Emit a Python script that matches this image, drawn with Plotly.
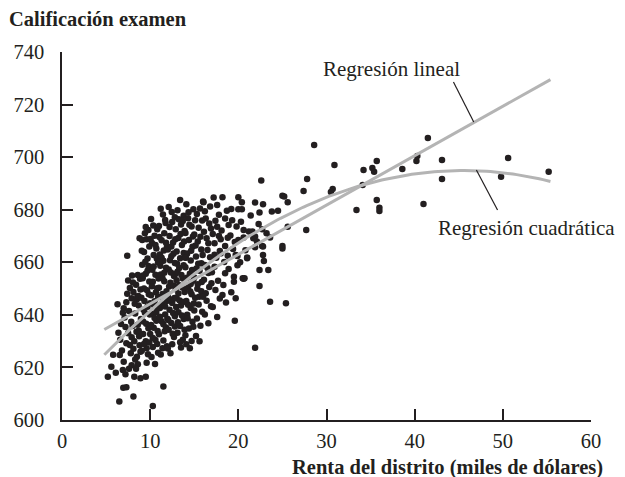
import plotly.graph_objects as go

# District income (thousands of dollars) and average test score, one pair per district
income = [
    5.2, 5.6, 5.8, 6.1,
    6.5, 6.55, 6.9, 6.6, 6.8, 6.4, 6.7, 6.9, 6.3, 6.95,
    7.0, 7.3, 7.8, 7.3, 7.7, 7.1, 7.85, 7.3, 7.0, 7.4, 7.5, 7.2, 7.6, 7.9, 7.7, 7.4, 7.9, 7.6, 7.2, 7.95, 7.5, 7.9,
    8.1, 8.2, 8.5, 8.9, 8.45, 8.6, 8.8, 8.3, 8.7, 8.1, 8.4, 8.9, 8.6, 8.2, 8.8, 8.0, 8.5, 8.7, 8.3, 8.9, 8.1, 8.6,
    8.4, 8.95, 8.75, 8.25, 8.55, 8.85, 8.05, 8.65,
    9.1, 9.5, 9.6, 9.6, 9.8, 9.2, 9.4, 9.7, 9.0, 9.3, 9.9, 9.5, 9.1, 9.7, 9.3, 9.9, 9.6, 9.4, 9.2, 9.8, 9.5, 9.05,
    9.75, 9.35, 9.85, 9.15, 9.45, 9.65, 9.25, 9.55, 9.95, 9.05, 9.7, 9.3, 9.8, 9.5, 9.9, 9.2,
    10.3, 10.8, 10.1, 10.5, 10.2, 10.7, 10.4, 10.9, 10.0, 10.6, 10.3, 10.8, 10.1, 10.5, 10.9, 10.2, 10.7, 10.4,
    10.0, 10.6, 10.3, 10.9, 10.55, 10.15, 10.85, 10.45, 10.65, 10.25, 10.75, 10.05, 10.35, 10.95, 10.5, 10.8,
    10.2, 10.6, 10.9, 10.1, 10.4, 10.7, 10.3, 10.0,
    11.7, 11.5, 11.4, 11.2, 11.0, 11.6, 11.3, 11.9, 11.1, 11.5, 11.8, 11.2, 11.6, 11.0, 11.4, 11.9, 11.1, 11.7,
    11.3, 11.8, 11.0, 11.5, 11.2, 11.9, 11.65, 11.35, 11.85, 11.15, 11.55, 11.05, 11.75, 11.45, 11.25, 11.95,
    11.6, 11.3, 11.1, 11.8, 11.4, 11.7, 11.0, 11.5,
    12.3, 12.8, 12.1, 12.5, 12.9, 12.2, 12.6, 12.0, 12.4, 12.8, 12.1, 12.7, 12.3, 12.9, 12.0, 12.5, 12.2, 12.8,
    12.4, 12.1, 12.7, 12.5, 12.95, 12.35, 12.65, 12.15, 12.85, 12.45, 12.05, 12.75, 12.25, 12.55, 12.9, 12.2,
    12.6, 12.0, 12.4, 12.8, 12.3, 12.7,
    13.4, 13.8, 13.1, 13.5, 13.9, 13.2, 13.6, 13.0, 13.4, 13.8, 13.1, 13.7, 13.3, 13.9, 13.0, 13.5, 13.2, 13.8,
    13.4, 13.1, 13.7, 13.5, 13.95, 13.35, 13.65, 13.15, 13.85, 13.45, 13.05, 13.75, 13.25, 13.55, 13.9, 13.2,
    13.6, 13.0, 13.4, 13.8, 13.3, 13.7,
    14.1, 14.5, 14.9, 14.3, 14.7, 14.0, 14.4, 14.8, 14.2, 14.6, 14.0, 14.5, 14.9, 14.3, 14.7, 14.1, 14.6, 14.2,
    14.8, 14.4, 14.0, 14.7, 14.35, 14.85, 14.15, 14.55, 14.95, 14.25, 14.65, 14.05, 14.45, 14.75, 14.9, 14.3,
    14.1, 14.6,
    15.2, 15.3, 15.9, 15.7, 15.8, 15.1, 15.5, 15.9, 15.0, 15.4, 15.8, 15.2, 15.6, 15.0, 15.4, 15.8, 15.1, 15.5,
    15.3, 15.7, 15.0, 15.6, 15.45, 15.85, 15.15, 15.55, 15.95, 15.25, 15.65, 15.35,
    16.0, 16.05, 16.3, 16.4, 16.5, 16.3, 16.9, 16.95, 16.2, 16.7, 16.1, 16.6, 16.8, 16.2, 16.6, 16.1, 16.7, 16.4,
    16.9, 16.2, 16.6, 16.8, 16.5, 16.0,
    17.6, 17.4, 17.6, 17.3, 17.3, 17.2, 17.8, 17.1, 17.9, 17.5, 17.0, 17.7, 17.4, 17.9, 17.1, 17.6, 17.3, 17.8,
    18.2, 18.5, 18.9, 18.5, 18.0, 18.5, 18.3, 18.7, 18.1, 18.8, 18.4, 18.9, 18.2, 18.6, 18.0, 18.8,
    19.2, 19.5, 19.6, 19.5, 19.7, 19.9, 19.3, 19.8, 19.1, 19.6, 19.4, 19.9, 19.2, 19.7,
    20.0, 20.4, 20.0, 20.4, 20.6, 20.6, 20.0, 20.5, 20.7, 20.6, 20.3, 20.8, 20.2,
    21.9, 21.2, 21.7, 21.6, 21.9, 21.9, 21.0, 21.0, 21.9, 21.4,
    22.6, 22.8, 22.4, 22.7, 22.7, 22.8, 22.8, 22.4, 22.4, 22.1, 22.3, 22.9,
    23.8, 23.6, 23.4, 23.6, 23.2,
    24.5, 25.0, 25.2, 25.6, 25.6, 25.0, 25.0, 25.4,
    27.4, 27.7, 27.8, 28.6, 30.9, 30.7, 30.5, 34.2, 35.2, 35.4, 35.7, 34.1, 38.6, 40.2, 40.3, 33.4, 35.7, 36.0,
    36.0, 41.5, 43.1, 43.1, 50.6, 49.8, 55.2, 41.0,
]

score = [
    616.5, 620.3, 624.8, 618.0,
    607.0, 624.7, 619.0, 630.5, 626.4, 633.2, 636.5, 640.8, 644.0, 612.3,
    622.2, 612.5, 625.4, 629.2, 628.5, 639.0, 637.4, 644.8, 642.5, 662.5, 633.0, 635.4, 641.5, 646.3, 650.2, 648.0,
    631.5, 619.5, 617.4, 655.0, 653.1, 620.8,
    608.9, 616.5, 624.1, 615.9, 633.6, 655.2, 669.1, 640.5, 643.6, 648.7, 651.5, 649.6, 636.2, 630.0, 628.4, 635.8,
    645.9, 634.0, 623.0, 626.0, 627.1, 621.2, 619.5, 638.4, 631.9, 644.2, 647.0, 653.7, 652.3, 647.2,
    668.5, 616.5, 621.8, 627.3, 672.3, 637.5, 640.8, 643.1, 646.5, 650.0, 652.7, 655.6, 659.1, 661.4, 663.9, 666.0,
    668.8, 671.0, 632.7, 634.9, 630.0, 626.3, 625.0, 645.3, 647.8, 653.9, 660.2, 649.4, 641.9, 636.6, 640.1, 664.4,
    656.8, 628.9, 658.6, 673.4, 629.5, 655.0,
    605.3, 672.6, 676.5, 670.1, 667.3, 665.2, 662.8, 660.0, 657.9, 655.3, 652.6, 650.1, 647.5, 645.2, 642.6, 640.3,
    637.8, 635.1, 632.7, 630.4, 627.8, 625.6, 621.3, 624.0, 633.9, 643.7, 648.6, 657.2, 661.4, 668.9, 674.0, 653.8,
    638.8, 628.9, 650.9, 666.6, 646.8, 636.1, 658.4, 641.1, 631.2, 644.4,
    676.1, 612.7, 627.3, 680.4, 673.8, 671.0, 668.4, 665.8, 663.0, 660.6, 657.9, 655.4, 652.8, 650.3, 647.9, 645.3,
    642.6, 640.1, 637.6, 635.2, 632.6, 630.2, 624.9, 628.1, 633.8, 644.1, 649.0, 658.7, 664.5, 669.6, 674.9, 678.2,
    646.7, 638.5, 656.0, 661.7, 639.3, 667.4, 653.9, 643.2, 660.1, 636.4,
    625.4, 677.1, 681.0, 675.3, 672.6, 670.0, 667.5, 664.9, 662.3, 659.7, 657.3, 654.8, 652.2, 649.7, 647.1, 644.5,
    641.9, 639.5, 636.9, 634.3, 631.6, 628.8, 643.0, 656.1, 663.3, 650.8, 668.8, 679.1, 638.0, 646.4, 660.8, 632.8,
    655.6, 673.4, 640.7, 627.2, 666.0, 635.6, 645.8, 651.1,
    683.7, 677.7, 679.8, 674.4, 671.9, 669.2, 666.6, 664.1, 661.5, 658.9, 656.4, 653.8, 651.3, 648.7, 646.2, 643.6,
    641.0, 638.4, 635.8, 633.2, 630.5, 627.6, 661.8, 645.5, 650.4, 637.2, 667.9, 670.8, 659.4, 644.9, 676.4, 655.2,
    634.3, 648.1, 639.8, 653.2, 629.6, 663.5, 657.8, 675.7,
    682.1, 627.3, 680.2, 676.8, 673.6, 671.1, 668.5, 665.9, 663.3, 660.7, 658.1, 655.6, 653.0, 650.4, 647.8, 645.3,
    642.6, 640.0, 637.4, 634.8, 632.2, 630.1, 679.0, 669.8, 654.1, 648.9, 644.3, 638.7, 664.4, 661.7, 674.3, 657.1,
    635.5, 643.8, 628.8, 651.7,
    632.0, 678.4, 641.2, 669.7, 659.6, 676.0, 673.1, 675.9, 670.6, 667.9, 664.9, 662.2, 656.8, 654.2, 651.6, 649.0,
    646.5, 643.9, 638.6, 635.9, 641.7, 630.0, 659.4, 652.5, 666.4, 646.9, 662.8, 657.6, 680.5, 649.9,
    683.1, 682.8, 676.7, 669.1, 664.7, 648.2, 672.9, 652.0, 679.4, 674.8, 671.6, 667.2, 661.9, 659.0, 655.9, 653.4,
    650.6, 645.4, 643.3, 640.1, 636.8, 681.2, 657.8, 646.9,
    681.8, 675.8, 673.5, 667.2, 658.3, 684.6, 678.1, 670.8, 664.3, 661.7, 656.2, 653.0, 649.5, 646.2, 643.0, 639.2,
    662.9, 670.0,
    684.7, 676.7, 674.2, 666.2, 663.4, 655.8, 651.4, 679.6, 672.1, 669.3, 660.1, 657.4, 647.6, 644.7, 668.8, 662.5,
    680.3, 652.6, 637.8, 654.5, 662.8, 662.4, 676.0, 673.6, 670.2, 667.7, 665.1, 658.9, 648.6, 646.3,
    684.7, 682.8, 680.2, 680.2, 669.4, 672.3, 668.5, 653.9, 653.9, 653.7, 675.4, 664.6, 660.0,
    682.7, 671.7, 669.1, 671.7, 669.8, 665.7, 661.8, 661.5, 627.5, 677.8,
    691.1, 682.1, 678.9, 672.6, 666.2, 666.0, 662.8, 657.1, 651.0, 667.9, 674.6, 660.5,
    679.3, 669.4, 657.1, 645.0, 671.0,
    679.6, 685.3, 685.0, 682.8, 673.5, 666.2, 665.2, 644.4,
    687.1, 672.3, 691.7, 704.6, 697.0, 687.9, 686.7, 695.1, 695.9, 694.4, 698.5, 689.4, 695.5, 698.5, 700.4, 679.9,
    683.7, 680.7, 679.5, 707.3, 698.9, 691.7, 699.7, 692.5, 694.4, 682.2,
]

# Fitted regressions: score = b0 + b1*income (+ b2*income^2)
linear_coef = (625.4, 1.879)
quad_coef = (607.3, 3.85, -0.0423)
fit_from, fit_to = 4.8, 55.4
n_fit = 120

fit_x = [fit_from + (fit_to - fit_from) * i / (n_fit - 1) for i in range(n_fit)]
lin_y = [linear_coef[0] + linear_coef[1] * v for v in fit_x]
quad_y = [quad_coef[0] + quad_coef[1] * v + quad_coef[2] * v * v for v in fit_x]

ink = "#231f20"
fit_gray = "#b4b4b4"
serif = "Liberation Serif"

fig = go.Figure()
fig.add_trace(go.Scatter(
    x=income, y=score, mode="markers",
    marker=dict(size=6.5, color=ink, line=dict(width=0)),
    cliponaxis=False, hoverinfo="skip",
))
fig.add_trace(go.Scatter(x=fit_x, y=lin_y, mode="lines",
                         line=dict(color=fit_gray, width=3), hoverinfo="skip"))
fig.add_trace(go.Scatter(x=fit_x, y=quad_y, mode="lines",
                         line=dict(color=fit_gray, width=3), hoverinfo="skip"))

axis_common = dict(
    showline=True, linecolor=ink, linewidth=1.5,
    ticks="inside", ticklen=11, tickwidth=1.5, tickcolor=ink,
    showgrid=False, zeroline=False,
    tickfont=dict(family=serif, size=20.5, color=ink),
)

fig.update_layout(
    width=625, height=477,
    margin=dict(l=62, r=34, t=52, b=57),
    paper_bgcolor="white", plot_bgcolor="white",
    showlegend=False,
    xaxis=dict(range=[0, 60], tickvals=[0, 10, 20, 30, 40, 50, 60],
               ticklabelstandoff=2, **axis_common),
    yaxis=dict(range=[600, 740], tickvals=[600, 620, 640, 660, 680, 700, 720, 740],
               ticklabelstandoff=12, **axis_common),
    annotations=[
        dict(text="<b>Calificación examen</b>", xref="paper", yref="paper",
             x=-0.104, y=1.09, xanchor="left", yanchor="middle", showarrow=False,
             font=dict(family=serif, size=20.5, color=ink)),
        dict(text="<b>Renta del distrito (miles de dólares)</b>", xref="paper", yref="paper",
             x=1.026, y=-0.13, xanchor="right", yanchor="middle", showarrow=False,
             font=dict(family=serif, size=20.5, color=ink)),
        dict(text="Regresión lineal", x=37.35, y=733.5, xanchor="center", yanchor="middle",
             showarrow=False, font=dict(family=serif, size=21, color=ink)),
        dict(text="Regresión cuadrática", x=52.7, y=673.1, xanchor="center", yanchor="middle",
             showarrow=False, font=dict(family=serif, size=21, color=ink)),
    ],
    shapes=[
        dict(type="line", x0=44.4, y0=728.6, x1=46.7, y1=713.4,
             line=dict(color=ink, width=1.2)),
        dict(type="line", x0=47.0, y0=695.1, x1=49.4, y1=679.9,
             line=dict(color=ink, width=1.2)),
    ],
)

fig.write_html("out.html")
